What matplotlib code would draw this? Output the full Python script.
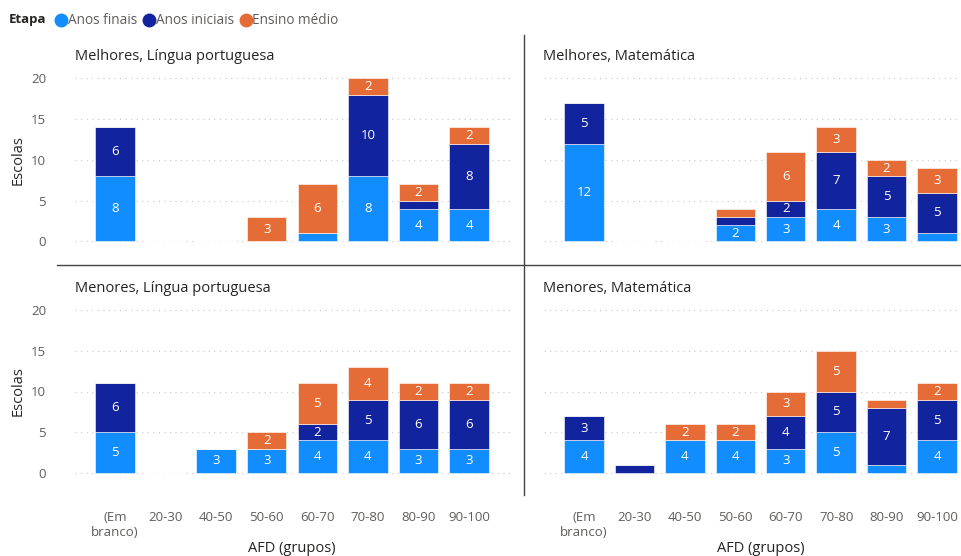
import matplotlib
matplotlib.use("Agg")
import matplotlib.pyplot as plt
from matplotlib.lines import Line2D
import numpy as np

categories = ["(Em\nbranco)", "20-30", "40-50", "50-60", "60-70", "70-80", "80-90", "90-100"]
series_names = ["Anos finais", "Anos iniciais", "Ensino médio"]
colors = ["#118DFF", "#12239E", "#E66C37"]

melhores_lp_finais = [8, 0, 0, 0, 1, 8, 4, 4]
melhores_lp_iniciais = [6, 0, 0, 0, 0, 10, 1, 8]
melhores_lp_medio = [0, 0, 0, 3, 6, 2, 2, 2]

melhores_mat_finais = [12, 0, 0, 2, 3, 4, 3, 1]
melhores_mat_iniciais = [5, 0, 0, 1, 2, 7, 5, 5]
melhores_mat_medio = [0, 0, 0, 1, 6, 3, 2, 3]

menores_lp_finais = [5, 0, 3, 3, 4, 4, 3, 3]
menores_lp_iniciais = [6, 0, 0, 0, 2, 5, 6, 6]
menores_lp_medio = [0, 0, 0, 2, 5, 4, 2, 2]

menores_mat_finais = [4, 0, 4, 4, 3, 5, 1, 4]
menores_mat_iniciais = [3, 1, 0, 0, 4, 5, 7, 5]
menores_mat_medio = [0, 0, 2, 2, 3, 5, 1, 2]

panels = [
    ("Melhores, Língua portuguesa", [melhores_lp_finais, melhores_lp_iniciais, melhores_lp_medio]),
    ("Melhores, Matemática", [melhores_mat_finais, melhores_mat_iniciais, melhores_mat_medio]),
    ("Menores, Língua portuguesa", [menores_lp_finais, menores_lp_iniciais, menores_lp_medio]),
    ("Menores, Matemática", [menores_mat_finais, menores_mat_iniciais, menores_mat_medio]),
]
yticks = [0, 5, 10, 15, 20]

FONT = "Open Sans"
plt.rcParams["font.family"] = [FONT, "DejaVu Sans"]

W, H = 961, 556
fig = plt.figure(figsize=(W / 100, H / 100), dpi=100)
fig.patch.set_facecolor("white")

def px_axes(x0, x1, y_top, y_bot):
    return fig.add_axes([x0 / W, 1 - y_bot / H, (x1 - x0) / W, (y_bot - y_top) / H])

# geometry per panel: (center of first cat, spacing, y px of 0, y px of 20, right edge px, title x, title y)
geo = [
    (115.0, 50.57, 241.5, 78.3, 510.0, 75, 57),
    (584.0, 50.43, 241.5, 78.3, 961.0, 543, 57),
    (115.0, 50.57, 473.0, 310.0, 510.0, 75, 289),
    (584.0, 50.43, 473.0, 310.0, 961.0, 543, 289),
]

xlo = -0.8
for i, ((title, data), (c0, sp, y0, y20, xr, tx, ty)) in enumerate(zip(panels, geo)):
    upp = (y0 - y20) / 20.0
    ylo, yhi = -0.6, 20.6
    x_left = c0 + xlo * sp
    xhi = (xr - c0) / sp
    ax = px_axes(x_left, xr, y20 - (yhi - 20) * upp, y0 - ylo * upp)
    ax.set_xlim(xlo, xhi)
    ax.set_ylim(ylo, yhi)
    x = np.arange(len(categories))
    bottom = np.zeros(len(categories))
    for vals, col, name in zip(data, colors, series_names):
        v = np.array(vals, dtype=float)
        ax.bar(x, v, width=0.78, bottom=bottom, color=col, edgecolor="white",
               linewidth=0.4, zorder=3, label=name)
        for xi, vi, bi in zip(x, v, bottom):
            if vi >= 2:
                ax.text(xi, bi + vi / 2, f"{int(vi)}", ha="center", va="center",
                        color="white", fontsize=9.5, zorder=4)
        bottom += v
    for yt in yticks:
        ax.axhline(yt, color="#C8C6C4", linestyle=(0, (1, 4)), linewidth=0.8, zorder=1)
    for s in ax.spines.values():
        s.set_visible(False)
    ax.tick_params(length=0)
    ax.set_yticks(yticks)
    if i % 2 == 0:
        ax.set_yticklabels([str(t) for t in yticks], color="#605E5C", fontsize=9.5)
        ax.tick_params(axis="y", pad=20.5)
        fig.text(18 / W, 1 - ((y0 + y20) / 2) / H, "Escolas", rotation=90, fontsize=10.5,
                 color="#252423", ha="center", va="center")
    else:
        ax.set_yticklabels([])
    if i >= 2:
        ax.set_xticks(x)
        ax.set_xticklabels(categories, fontsize=9.5, color="#605E5C", linespacing=1.15)
        ax.tick_params(axis="x", pad=24)
        cx = c0 + 3.5 * sp
        fig.text(cx / W, 1 - 549 / H, "AFD (grupos)", fontsize=10.5, color="#252423",
                 ha="center", va="center")
    else:
        ax.set_xticks([])
    fig.text(tx / W, 1 - ty / H, title, fontsize=10.5, color="#252423", ha="left", va="center")

# divider lines
fig.add_artist(Line2D([524 / W, 524 / W], [1 - 35 / H, 1 - 495 / H], color="#444444", linewidth=1.0))
fig.add_artist(Line2D([57 / W, 1.0], [1 - 265 / H, 1 - 265 / H], color="#444444", linewidth=1.0))

# legend
ly = 1 - 20 / H
fig.text(9 / W, ly, "Etapa", fontsize=9.5, fontweight="bold", color="#252423", ha="left", va="center")
marker_x = [61, 149, 246]
for mx, c, name in zip(marker_x, colors, series_names):
    fig.add_artist(Line2D([mx / W], [ly], marker="o", linestyle="", markersize=9,
                          markerfacecolor=c, markeredgecolor=c))
    fig.text((mx + 6.5) / W, ly, name, fontsize=9.8, color="#605E5C", ha="left", va="center")

fig.savefig("out.png", dpi=100, facecolor="white")
